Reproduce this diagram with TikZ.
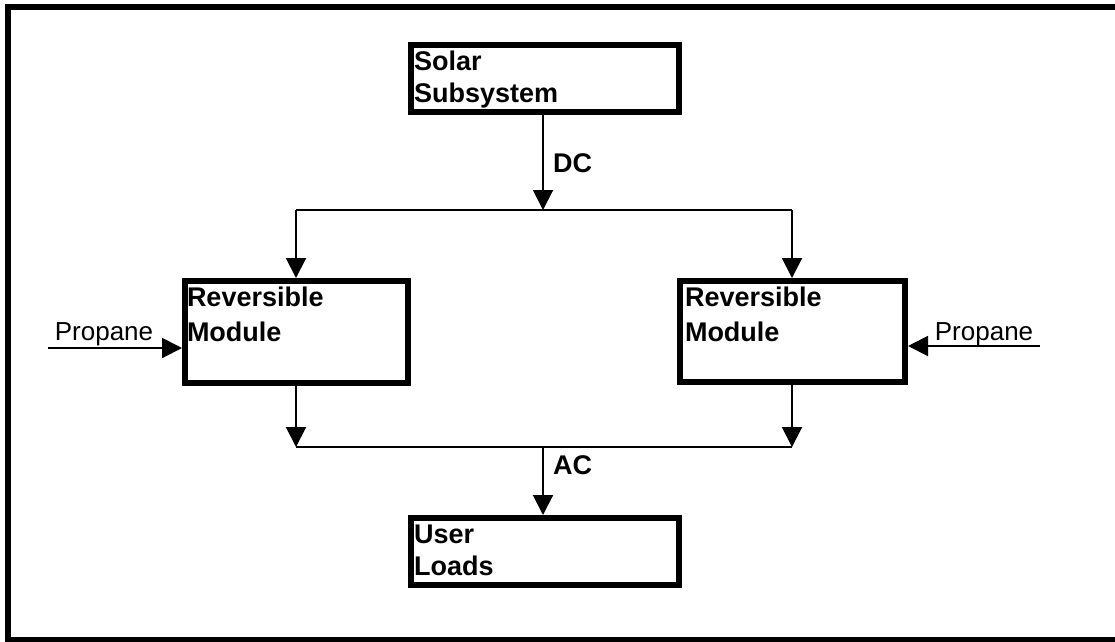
\documentclass[tikz,border=0pt]{standalone}
\usepackage{fontspec}
\setmainfont{Liberation Sans}
\usetikzlibrary{arrows.meta}
\newcommand{\bxt}[5]{\begin{minipage}[t][#2][t]{#1}\fontsize{27}{#4}\selectfont\bfseries\leftskip=#5\rule{0pt}{25pt}#3\end{minipage}}
\begin{document}
\begin{tikzpicture}[x=1pt,y=-1pt,
  box/.style={draw, line width=6pt, inner sep=0pt, anchor=north west},
  conn/.style={line width=2pt},
  arr/.style={line width=2pt, -{Triangle[length=20pt,width=20pt]}},
  lbl/.style={font=\fontsize{26}{32}\selectfont, inner sep=0pt},
  blbl/.style={font=\fontsize{27}{32}\selectfont\bfseries, inner sep=0pt}]
\useasboundingbox (0,0) rectangle (1115,641);
% frame
\draw[line width=6pt] (1125,7) -- (8,7) -- (8,640) -- (1125,640);
% boxes
\node[box] (solar) at (408,42) {\bxt{268pt}{67pt}{Solar\\Subsystem}{32pt}{3pt}};
\node[box] (rmL) at (182,278) {\bxt{223pt}{102pt}{Reversible\\Module}{35pt}{2pt}};
\node[box] (rmR) at (677,278) {\bxt{225pt}{101pt}{Reversible\\Module}{35pt}{5pt}};
\node[box] (users) at (408,515) {\bxt{268pt}{67pt}{User\\Loads}{32pt}{3pt}};
% junction points
\coordinate (dcj) at (543,210);
\coordinate (dl) at (296,210);
\coordinate (dr) at (792,210);
\coordinate (acj) at (543,447);
\coordinate (acl) at (296,447);
\coordinate (acr) at (792,447);
\coordinate (pl) at (48,348);
\coordinate (pr) at (1040,346);
% DC bus
\draw[arr] (solar.south -| dcj) -- node[blbl, pos=0.6, anchor=base west, xshift=9pt] {DC} (dcj);
\draw[conn] (dl) -- (dr);
\draw[arr] (dl) -- (rmL.north -| dl);
\draw[arr] (dr) -- (rmR.north -| dr);
% propane
\draw[arr] (pl) -- node[lbl, pos=0.418, anchor=base, yshift=8pt] {Propane} (pl -| rmL.west);
\draw[arr] (pr) -- node[lbl, pos=0.424, anchor=base, yshift=6pt] {Propane} (pr -| rmR.east);
% AC bus
\draw[arr] (rmL.south -| acl) -- (acl);
\draw[arr] (rmR.south -| acr) -- (acr);
\draw[conn] (acl) -- (acr);
\draw[arr] (acj) -- node[blbl, pos=0.41, anchor=base west, xshift=9pt] {AC} (users.north -| acj);
\end{tikzpicture}
\end{document}
